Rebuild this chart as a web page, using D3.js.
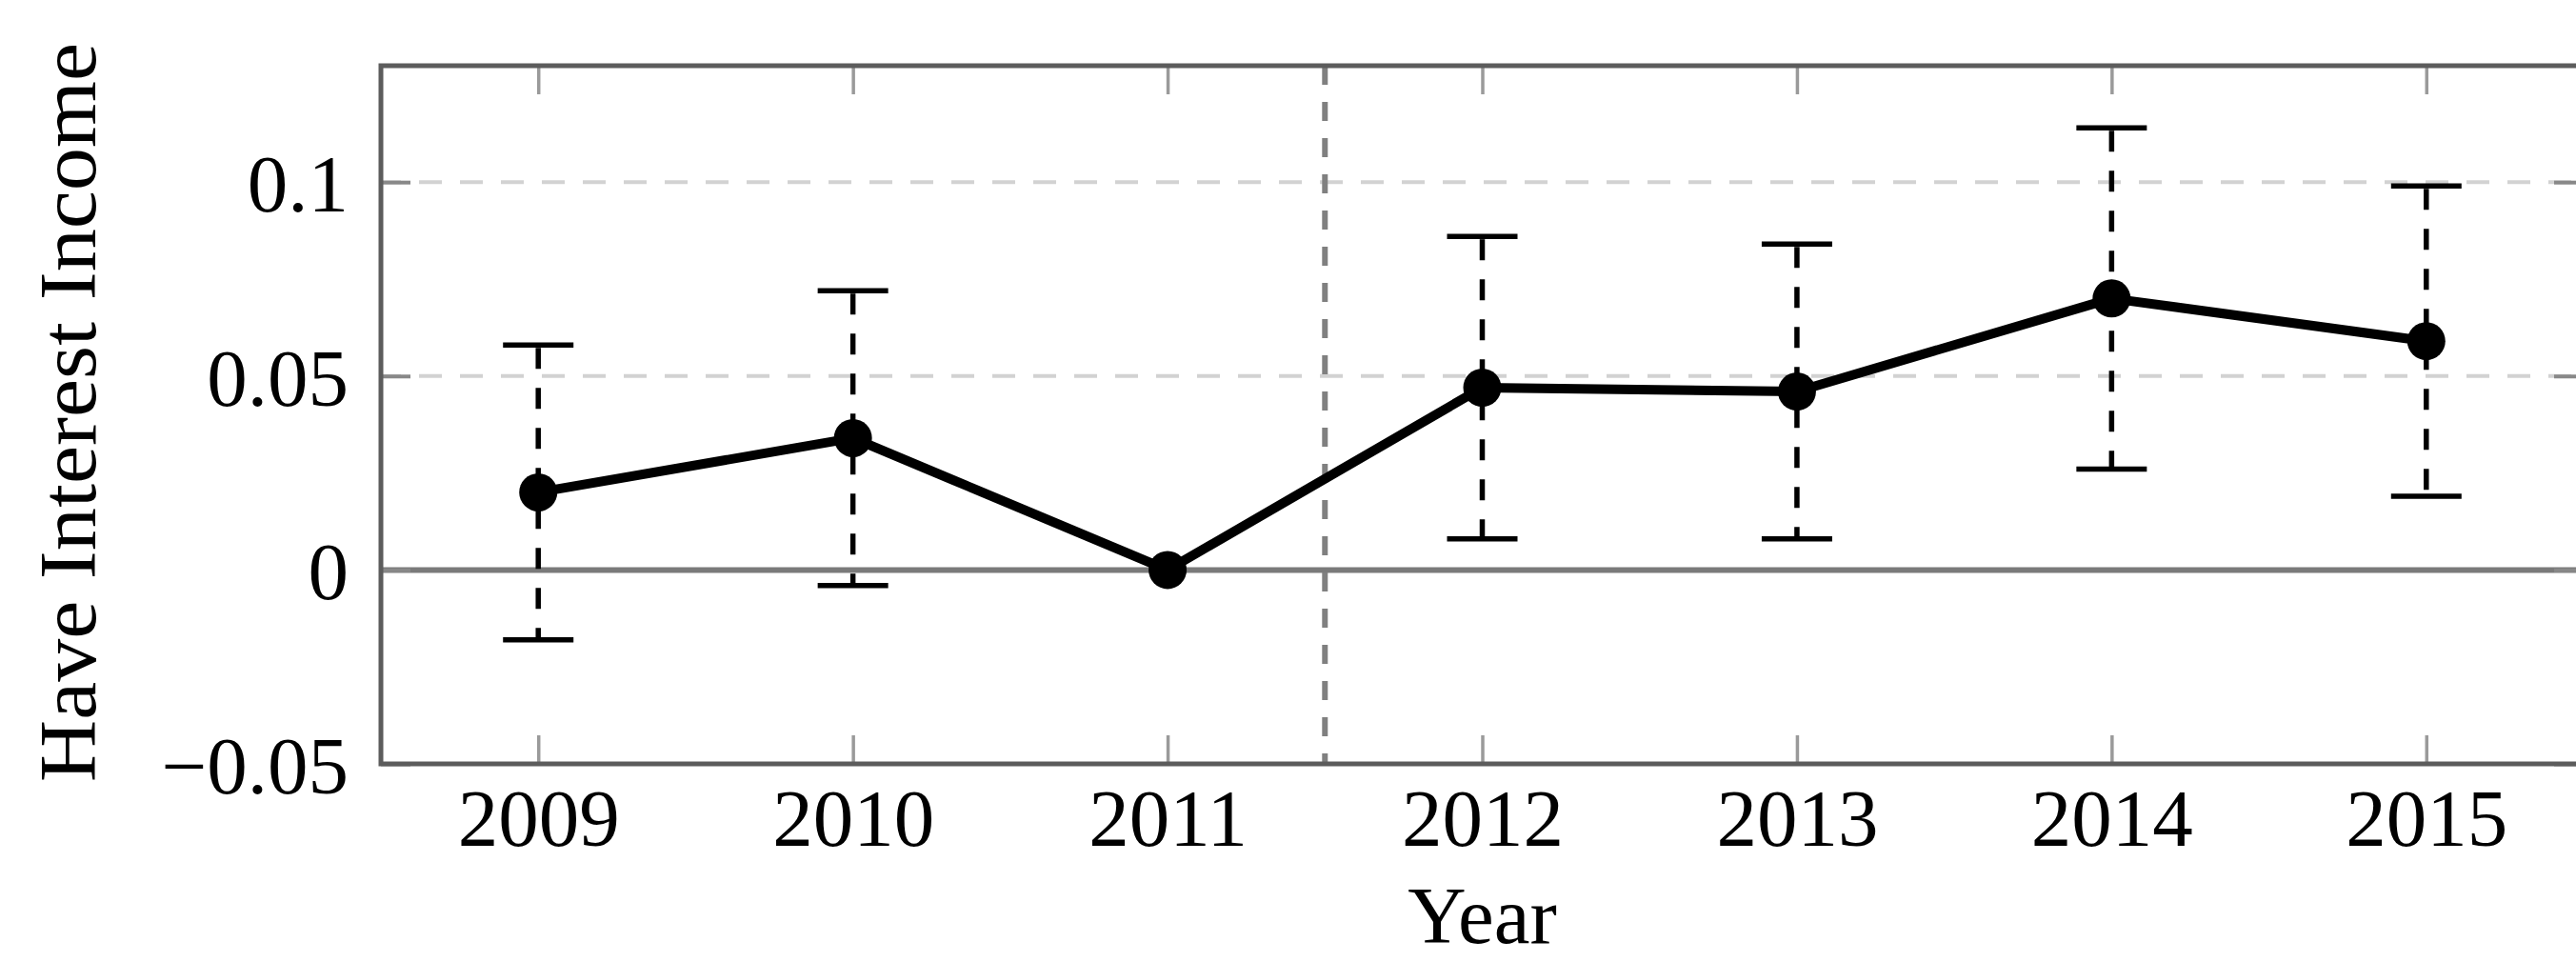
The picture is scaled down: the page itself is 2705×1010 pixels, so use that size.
<!DOCTYPE html>
<html>
<head>
<meta charset="utf-8">
<script src="https://cdn.jsdelivr.net/npm/d3@7"></script>
<style>
  html, body { margin: 0; padding: 0; background: #fff; }
  svg { display: block; }
  text { font-family: "Liberation Serif", "DejaVu Serif", serif; fill: #000; }
</style>
</head>
<body>
<svg id="chart" width="2705" height="1010"></svg>
<script>
// Share of households reporting interest income, by survey year
const years = [2009, 2010, 2011, 2012, 2013, 2014, 2015];
const estimates = [0.020, 0.034, 0.000, 0.047, 0.046, 0.070, 0.059];
// 95% confidence bounds (2011 is the reference year, no interval)
const upperBounds = [0.058, 0.072, null, 0.086, 0.084, 0.114, 0.099];
const lowerBounds = [-0.018, -0.004, null, 0.008, 0.008, 0.026, 0.019];

const yTickValues = [-0.05, 0, 0.05, 0.1];
const yTickLabels = ["\u22120.05", "0", "0.05", "0.1"];
const gridValues = [0.05, 0.1];
const breakYear = 2011.5;

const xTitle = "Year";
const yTitle = "Have Interest Income";

const svg = d3.select("#chart");
const frame = { left: 400, right: 2713, top: 69, bottom: 802 };
const fontSize = 85;

const x = d3.scaleLinear().domain([2008.5, 2015.5]).range([frame.left, frame.right]);
const y = d3.scaleLinear().domain([-0.05, 0.13]).range([frame.bottom, frame.top]);

const rows = years.map((yr, i) => ({
  year: yr, value: estimates[i], hi: upperBounds[i], lo: lowerBounds[i]
}));

// horizontal dashed grid
svg.append("g").selectAll("line").data(gridValues).join("line")
  .attr("x1", frame.left).attr("x2", frame.right)
  .attr("y1", d => y(d)).attr("y2", d => y(d))
  .attr("stroke", "#d2d2d2").attr("stroke-width", 4)
  .attr("stroke-dasharray", "24 19").attr("stroke-dashoffset", -40);

// zero reference line
svg.append("line")
  .attr("x1", frame.left).attr("x2", frame.right)
  .attr("y1", y(0)).attr("y2", y(0))
  .attr("stroke", "#7a7a7a").attr("stroke-width", 6);

// vertical marker between 2011 and 2012
svg.append("line")
  .attr("x1", x(breakYear)).attr("x2", x(breakYear))
  .attr("y1", frame.top).attr("y2", frame.bottom)
  .attr("stroke", "#808080").attr("stroke-width", 6)
  .attr("stroke-dasharray", "20 18");

// axes: inward ticks on all four sides
const tickStyle = g => {
  g.select(".domain").remove();
  g.selectAll(".tick line").attr("stroke", "#9a9a9a").attr("stroke-width", 3.5);
};

const xBottom = svg.append("g")
  .attr("transform", `translate(0,${frame.bottom})`)
  .call(d3.axisBottom(x).tickValues(years).tickFormat(d3.format("d")).tickSize(-30))
  .call(tickStyle);
xBottom.selectAll(".tick text")
  .attr("y", 86).attr("dy", 0)
  .style("font-size", fontSize + "px")
  .style("font-family", "'Liberation Serif', serif")
  .attr("fill", "#000");

svg.append("g")
  .attr("transform", `translate(0,${frame.top})`)
  .call(d3.axisTop(x).tickValues(years).tickFormat("").tickSize(-30))
  .call(tickStyle);

const yLeft = svg.append("g")
  .attr("transform", `translate(${frame.left},0)`)
  .call(d3.axisLeft(y).tickValues(yTickValues)
    .tickFormat((d, i) => yTickLabels[i]).tickSize(-31).tickPadding(34))
  .call(tickStyle);
yLeft.selectAll(".tick line").attr("stroke", "#888").attr("stroke-width", 4);
yLeft.selectAll(".tick text")
  .attr("dy", "0.36em")
  .style("font-size", fontSize + "px")
  .style("font-family", "'Liberation Serif', serif")
  .attr("fill", "#000");

const yRight = svg.append("g")
  .attr("transform", `translate(${frame.right},0)`)
  .call(d3.axisRight(y).tickValues(yTickValues).tickFormat("").tickSize(-31))
  .call(tickStyle);
yRight.selectAll(".tick line").attr("stroke", "#888").attr("stroke-width", 4);

// plot frame
svg.append("rect")
  .attr("x", frame.left).attr("y", frame.top)
  .attr("width", frame.right - frame.left).attr("height", frame.bottom - frame.top)
  .attr("fill", "none").attr("stroke", "#5c5c5c").attr("stroke-width", 5);

// confidence intervals
const withCI = rows.filter(d => d.hi !== null && d.lo !== null);
const ci = svg.append("g");
ci.selectAll("line.whisker").data(withCI).join("line")
  .attr("class", "whisker")
  .attr("x1", d => x(d.year)).attr("x2", d => x(d.year))
  .attr("y1", d => y(d.hi)).attr("y2", d => y(d.lo))
  .attr("stroke", "#000").attr("stroke-width", 5.5)
  .attr("stroke-dasharray", "22 20").attr("stroke-dashoffset", -3);
ci.selectAll("line.cap-hi").data(withCI).join("line")
  .attr("class", "cap-hi")
  .attr("x1", d => x(d.year) - 37).attr("x2", d => x(d.year) + 37)
  .attr("y1", d => y(d.hi)).attr("y2", d => y(d.hi))
  .attr("stroke", "#000").attr("stroke-width", 5.5);
ci.selectAll("line.cap-lo").data(withCI).join("line")
  .attr("class", "cap-lo")
  .attr("x1", d => x(d.year) - 37).attr("x2", d => x(d.year) + 37)
  .attr("y1", d => y(d.lo)).attr("y2", d => y(d.lo))
  .attr("stroke", "#000").attr("stroke-width", 5.5);

// estimate line and markers
svg.append("path").datum(rows)
  .attr("d", d3.line().x(d => x(d.year)).y(d => y(d.value)))
  .attr("fill", "none").attr("stroke", "#000")
  .attr("stroke-width", 10).attr("stroke-linejoin", "round");

svg.append("g").selectAll("circle").data(rows).join("circle")
  .attr("cx", d => x(d.year)).attr("cy", d => y(d.value))
  .attr("r", 20).attr("fill", "#000");

// axis titles
svg.append("text")
  .attr("x", (frame.left + frame.right) / 2).attr("y", 990)
  .attr("text-anchor", "middle")
  .style("font-size", fontSize + "px")
  .text(xTitle);

svg.append("text")
  .attr("transform", `translate(100,433) rotate(-90)`)
  .attr("text-anchor", "middle")
  .attr("textLength", 776).attr("lengthAdjust", "spacingAndGlyphs")
  .style("font-size", fontSize + "px")
  .text(yTitle);
</script>
</body>
</html>
